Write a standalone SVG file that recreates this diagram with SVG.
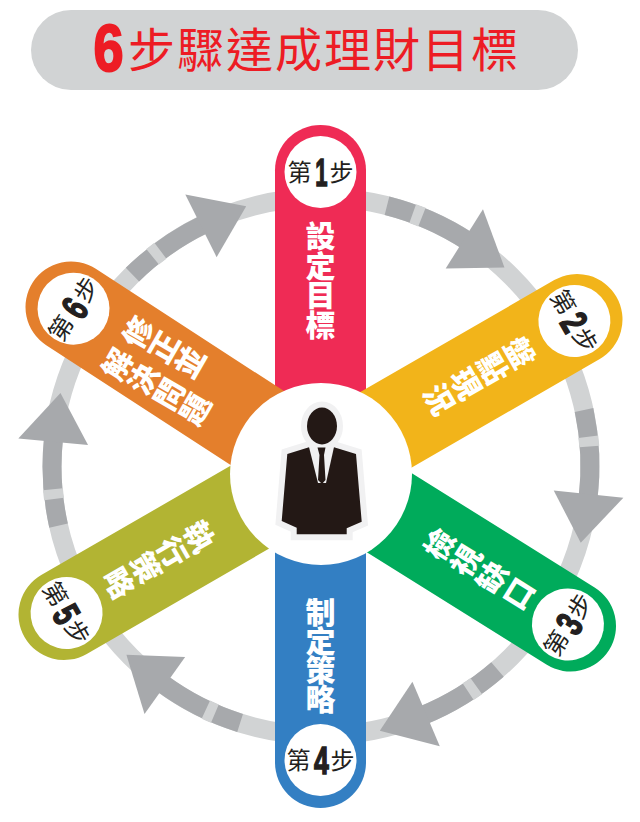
<svg xmlns="http://www.w3.org/2000/svg" xmlns:xlink="http://www.w3.org/1999/xlink" width="640" height="822" viewBox="0 0 640 822">
<style>
.cjk{font-family:"Noto Sans CJK TC","Noto Sans CJK SC",sans-serif}
.lab{font-family:"Noto Sans CJK TC","Noto Sans CJK SC",sans-serif;font-weight:900;fill:#fff;text-anchor:middle;font-size:30px}
.small{font-family:"Noto Sans CJK TC","Noto Sans CJK SC",sans-serif;font-size:24px;fill:#231f20;text-anchor:middle}
.dig{font-family:"Liberation Sans",Arial,sans-serif;font-weight:700;font-size:38px;fill:#231f20;stroke:#231f20;stroke-width:1.500;text-anchor:middle}
.ring{fill:none;stroke:#d1d3d4;stroke-width:19}
.dark{fill:none;stroke:#a7a9ac;stroke-width:19}
.stripe{fill:none;stroke:#d1d3d4;stroke-width:20}
.head{fill:#a7a9ac}
.badge{fill:#fff}
</style>
<defs>
<g id="arrow">
<path class="dark" d="M0 -269A269 269 0 0 1 87.6 -254.3"/>
<path class="stripe" d="M26.900 -267.600A269 269 0 0 1 36.700 -266.500"/>
<polygon class="head" points="72.300,-222.500 93.900,-289.100 129,-238"/>
</g>
</defs>
<g id="title">
<rect x="31" y="10" width="547" height="80" rx="40" fill="#d1d3d4"/>
<text transform="translate(108.500,71) scale(.82,1)" font-family="Liberation Sans,Arial,sans-serif" font-weight="700" font-size="66" fill="#ed1c24" stroke="#ed1c24" stroke-width="2" text-anchor="middle">6</text>
<text class="cjk" x="128" y="67" font-size="47" letter-spacing="2" fill="#ed1c24">步驟達成理財目標</text>
</g>
<g id="connectors">
<circle class="ring" cx="321" cy="466.500" r="269"/>
<use xlink:href="#arrow" href="#arrow" transform="translate(321,466.500) rotate(14.200)"/>
<use xlink:href="#arrow" href="#arrow" transform="translate(321,466.500) rotate(77.900)"/>
<use xlink:href="#arrow" href="#arrow" transform="translate(321,466.500) rotate(139)"/>
<use xlink:href="#arrow" href="#arrow" transform="translate(321,466.500) rotate(197.500)"/>
<use xlink:href="#arrow" href="#arrow" transform="translate(321,466.500) rotate(257.300)"/>
<use xlink:href="#arrow" href="#arrow" transform="translate(321,466.500) rotate(315.500)"/>
</g>
<g id="step1" transform="translate(320.500,170.500)">
<rect x="-45.500" y="-45.500" width="91" height="366" rx="45.500" fill="#ef2b55"/>
<circle class="badge" cy="1.500" r="36"/>
<text class="small" x="-21" y="10">第</text><text class="dig" transform="translate(1,15) scale(.58,1)">1</text><text class="small" x="21" y="10">步</text>
<text class="lab" x="0 0 0 0" y="76.500 106 135.500 165">設定目標</text>
</g>
<g id="step4" transform="translate(320.500,762.500)">
<rect x="-45.500" y="-320.500" width="91" height="366" rx="45.500" fill="#337fc3"/>
<circle class="badge" cy="-2.500" r="36"/>
<text class="small" x="-22" y="6">第</text><text class="dig" transform="translate(1,11) scale(.7,1)">4</text><text class="small" x="22" y="6">步</text>
<text class="lab" x="0 0 0 0" y="-140 -111 -82 -53">制定策略</text>
</g>
<g id="step2" transform="translate(577,319.500) rotate(60)">
<rect x="-45.500" y="-45.500" width="91" height="366" rx="45.500" fill="#f2b41a"/>
<circle class="badge" cy="3" r="36"/>
<text class="small" x="-22" y="12">第</text><text class="dig" transform="translate(1,17) scale(.7,1)">2</text><text class="small" x="22" y="12">步</text>
<text class="lab" x="0 0 0 0" y="77.500 108.500 139.500 170.500">盤點現況</text>
</g>
<g id="step3" transform="translate(570.500,626) rotate(-58)">
<rect x="-45.500" y="-320.500" width="91" height="366" rx="45.500" fill="#00ab5b"/>
<circle class="badge" cy="-3" r="36"/>
<text class="small" x="-22" y="6">第</text><text class="dig" transform="translate(1,11) scale(.7,1)">3</text><text class="small" x="22" y="6">步</text>
<text class="lab" x="0 0 0 0" y="-143 -112 -81 -50">檢視缺口</text>
</g>
<g id="step5" transform="translate(64,614.500) rotate(60)">
<rect x="-45.500" y="-320.500" width="91" height="366" rx="45.500" fill="#b2b433"/>
<circle class="badge" cy="-3" r="36"/>
<text class="small" x="-22" y="6">第</text><text class="dig" transform="translate(1,11) scale(.7,1)">5</text><text class="small" x="22" y="6">步</text>
<text class="lab" x="0 0 0 0" y="-145 -114 -83 -52">執行策略</text>
</g>
<g id="step6" transform="translate(71,307) rotate(-57)">
<rect x="-45.500" y="-45.500" width="91" height="366" rx="45.500" fill="#e47f2c"/>
<circle class="badge" cy="3" r="36"/>
<text class="small" x="-23" y="12">第</text><text class="dig" transform="translate(1,17) scale(.7,1)">6</text><text class="small" x="23" y="12">步</text>
<g transform="rotate(-3 0 120)">
<text class="lab" style="font-size:30px" x="18 18 18" y="82 112 142">修正並</text>
<text class="lab" style="font-size:30px" x="-20 -20 -20 -20" y="80 110 140 170">解決問題</text>
</g>
</g>
<g id="center">
<circle cx="321" cy="474" r="91" fill="#fff"/>
<g stroke="#f1f1f2" stroke-width="12" stroke-linejoin="miter">
<ellipse cx="322" cy="426" rx="15" ry="18.500" fill="#f1f1f2"/>
<polygon fill="#f1f1f2" points="287.300,454 309,447.300 334,447.300 356,454 361.700,521.700 346.700,528.300 346.700,534.300 296.700,534.300 296.700,527.700 281.700,521"/>
</g>
<ellipse cx="322" cy="426" rx="15" ry="18.500" fill="#231815"/>
<polygon fill="#231815" points="287.300,454 309,447.300 334,447.300 356,454 361.700,521.700 346.700,528.300 346.700,534.300 296.700,534.300 296.700,527.700 281.700,521"/>
<polygon fill="#f1f1f2" points="309,447 334,447 326,483 322,483 318,483"/>
<polygon fill="#231815" points="317.500,447.500 325.500,447.500 324,455 325.500,480 322,484 318,480 319.500,455"/>
</g>
</svg>
